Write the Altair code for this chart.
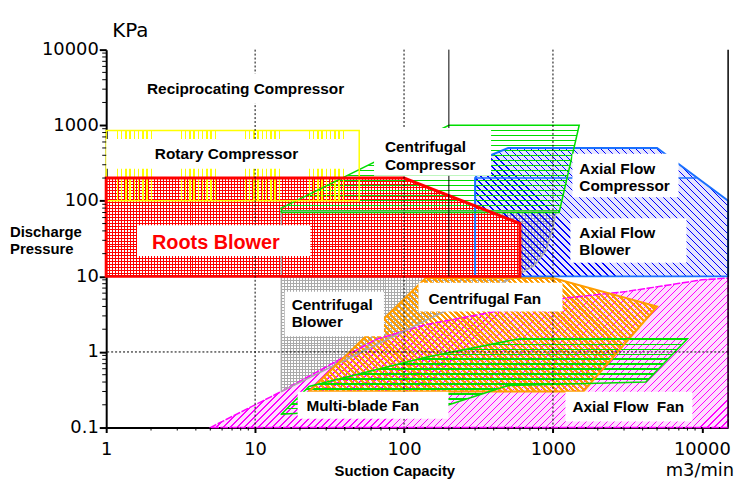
import math
import altair as alt
import pandas as pd

# ---------------- data (m3/min, kPa) ----------------
ROTARY_X = [1, 50, 50, 1]
ROTARY_Y = [850, 850, 100, 100]
ROOTS_X = [1, 100, 600, 600, 1]
ROOTS_Y = [200, 200, 50, 10, 10]
CCOMP_X = [15, 200, 1500, 1100, 15]
CCOMP_Y = [80, 1000, 1000, 70, 70]
AXIAL_X = [300, 300, 380, 500, 5000, 15000, 15000]
AXIAL_Y = [10, 200, 400, 500, 500, 100, 10]
AXIAL_SPLIT_X = [300, 9200]
AXIAL_SPLIT_Y = [200, 200]
CBLOW_X = [15, 15, 1050, 1000, 900, 750, 560]
CBLOW_Y = [0.3, 72, 72, 45, 22, 14, 10]
CFAN_X = [23, 140, 1000, 5000, 1600]
CFAN_Y = [0.3, 9.5, 9.5, 4, 0.3]
MULTI_X = [15, 23, 140, 600, 8000, 4200, 500, 200]
MULTI_Y = [0.15, 0.35, 0.85, 1.5, 1.5, 0.4, 0.36, 0.2]
AFAN_X = [5, 15, 65, 140, 1240, 3100, 10000, 15000, 15000]
AFAN_Y = [0.1, 0.3, 1.47, 2.3, 5.2, 6.3, 9, 9.5, 0.1]

X_DOMAIN = [1, 15000]
Y_DOMAIN = [0.1, 10000]
X_TICKS = [1, 10, 100, 1000, 10000]
Y_TICKS = [0.1, 1, 10, 100, 1000, 10000]
DOTTED_X = [10, 100, 1000]
DOTTED_Y = [1]
SOLID_X = [200]
SOLID_Y_FROM = [10]
SOLID_Y_TO = [10000]

LABEL_TEXT = ["Reciprocating Compressor", "Rotary Compressor", "Centrifugal", "Compressor",
              "Axial Flow", "Compressor", "Axial Flow", "Blower", "Centrifugal", "Blower",
              "Centrifugal Fan", "Multi-blade Fan", "Axial Flow\u00a0 Fan"]
LABEL_X = [1.88, 2.12, 74.4, 74.4, 1503, 1503, 1503, 1503, 17.6, 17.6, 146, 22.1, 1350]
LABEL_Y = [2570, 360, 445, 258, 229, 133, 32.2, 19.2, 3.54, 2.12, 4.37, 0.167, 0.162]
ROOTS_LABEL = ["Roots Blower"]
ROOTS_LABEL_X = [2.03]
ROOTS_LABEL_Y = [23.0]

BOX_X1 = [1.66, 1.0, 1.61, 62.9, 1350, 1309, 15.8, 125, 19.3, 1213]
BOX_X2 = [42.8, 42.8, 23.5, 384, 6970, 7880, 73.3, 1158, 198.6, 8630]
BOX_Y1 = [1950, 266, 18.6, 215, 111, 15.1, 1.61, 3.43, 0.131, 0.12]
BOX_Y2 = [4840, 659, 47.5, 918, 419, 58.7, 6.28, 8.24, 0.297, 0.297]

MINOR_X = [m * 10 ** e for e in range(0, 4) for m in range(2, 10)]
MINOR_Y = [m * 10.0 ** e for e in range(-1, 4) for m in range(2, 10)]

# ---------------- layout / styles ----------------
W, H = 627, 381
XS = alt.Scale(type="log", domain=X_DOMAIN)
YS = alt.Scale(type="log", domain=Y_DOMAIN)
LX0, LX1 = math.log10(X_DOMAIN[0]), math.log10(X_DOMAIN[1])
LY0, LY1 = math.log10(Y_DOMAIN[0]), math.log10(Y_DOMAIN[1])
CLEAR = "rgba(255,255,255,0)"
AXIS_FONT = "DejaVu Sans"
LBL_FONT = "Liberation Sans"

X_AXIS = alt.Axis(values=X_TICKS, format="~g", title="", grid=False, domainColor="black",
                  domainWidth=2, tickColor="black", tickWidth=2, tickSize=5,
                  labelFont=AXIS_FONT, labelFontSize=18, labelColor="black",
                  labelPadding=8, labelFlush=False, labelOverlap=False)
Y_AXIS = alt.Axis(values=Y_TICKS, format="~g", title="", grid=False, domainColor="black",
                  domainWidth=2, tickColor="black", tickWidth=2, tickSize=7,
                  labelFont=AXIS_FONT, labelFontSize=18, labelColor="black",
                  labelPadding=1, labelFlush=False, labelOverlap=False)


def X():
    return alt.X("x:Q", scale=XS, axis=X_AXIS)


def Y():
    return alt.Y("y:Q", scale=YS, axis=Y_AXIS)


def px(v):
    return (math.log10(v) - LX0) / (LX1 - LX0) * W


def py(v):
    return (LY1 - math.log10(v)) / (LY1 - LY0) * H


def hatch(color, xs, ys, kind, period, lw, phase=0.0, group=1, gap=0.0):
    w = px(max(xs)) - px(min(xs))
    h = py(min(ys)) - py(max(ys))
    s2 = math.sqrt(2.0)
    if kind == "h":
        span, g = h, (0, 0, 0, 1)
    elif kind == "v":
        span, g = w, (0, 0, 1, 0)
    elif kind == "down":
        c = (w + h) / (w * w + h * h)
        span, g = (w + h) / s2, (0, 1, c * w, 1 - c * h)
    else:  # "up"
        c = (w + h) / (w * w + h * h)
        span, g = (w + h) / s2, (0, 0, c * w, c * h)
    pos = []
    base = phase
    while base < span:
        for j in range(group):
            pos.append(base + j * gap)
        base += period
    stops = []
    last = 0.0
    for p in sorted(pos):
        a = round(p / span, 5)
        b = round(min((p + lw) / span, 1.0), 5)
        if a >= 1.0 or a < last:
            continue
        stops += [{"offset": a, "color": CLEAR}, {"offset": a, "color": color},
                  {"offset": b, "color": color}, {"offset": b, "color": CLEAR}]
        last = b
    return {"gradient": "linear", "x1": g[0], "y1": g[1], "x2": g[2], "y2": g[3], "stops": stops}


def poly_df(xs, ys):
    n = len(xs)
    return pd.DataFrame({"x": xs + [xs[0]], "y": ys + [ys[0]], "i": list(range(n + 1))})


def fills(xs, ys, hatches, base=None, base_op=0.0):
    df = poly_df(xs, ys)
    out = []
    if base:
        out.append(alt.Chart(df).mark_line(fill=base, fillOpacity=base_op, strokeOpacity=0)
                   .encode(x=X(), y=Y(), order="i:Q"))
    for g in hatches:
        out.append(alt.Chart(df).mark_line(fill=g, strokeOpacity=0)
                   .encode(x=X(), y=Y(), order="i:Q"))
    return out


def outline(xs, ys, stroke, sw, dash=None):
    kw = dict(stroke=stroke, strokeWidth=sw, strokeJoin="miter", strokeCap="square")
    if dash:
        kw["strokeDash"] = dash
    return alt.Chart(poly_df(xs, ys)).mark_line(**kw).encode(x=X(), y=Y(), order="i:Q")


MAG, GRAY, ORANGE, GREEN, BLUE, BLUE_LINE, YELLOW, RED = (
    "#ff00ff", "#aaaaaa", "#ff9d00", "#00dd00", "#0000ff", "#1a70ff", "#ffff00", "#ff0000")

layers = []
# region fills (bottom to top)
layers += fills(AFAN_X, AFAN_Y, [hatch(MAG, AFAN_X, AFAN_Y, "up", 5, 1)], base=MAG, base_op=0.13)
layers += fills(CBLOW_X, CBLOW_Y, [hatch(GRAY, CBLOW_X, CBLOW_Y, "h", 3, 1),
                                   hatch(GRAY, CBLOW_X, CBLOW_Y, "v", 3, 1)])
layers += fills(CFAN_X, CFAN_Y, [hatch(ORANGE, CFAN_X, CFAN_Y, "down", 4, 2.2)])
layers += fills(MULTI_X, MULTI_Y, [hatch(GREEN, MULTI_X, MULTI_Y, "h", 5, 1.4)])
layers += fills(AXIAL_X, AXIAL_Y, [hatch(BLUE, AXIAL_X, AXIAL_Y, "down", 5, 1)],
                base=BLUE, base_op=0.1)
layers += fills(ROOTS_X, ROOTS_Y, [hatch(RED, ROOTS_X, ROOTS_Y, "h", 3, 1),
                                   hatch(RED, ROOTS_X, ROOTS_Y, "v", 3, 1)],
                base="white", base_op=1.0)
layers += fills(CCOMP_X, CCOMP_Y, [hatch(GREEN, CCOMP_X, CCOMP_Y, "h", 5, 1.2)])
layers += fills(ROTARY_X, ROTARY_Y, [hatch(YELLOW, ROTARY_X, ROTARY_Y, "v", 64.5, 1.5,
                                           phase=10.5, group=9, gap=4.3)])

# region outlines
layers.append(outline(AFAN_X, AFAN_Y, MAG, 1.5, dash=[6, 3]))
layers.append(outline(CBLOW_X, CBLOW_Y, GRAY, 1.5))
layers.append(outline(CFAN_X, CFAN_Y, ORANGE, 2))
layers.append(outline(MULTI_X, MULTI_Y, GREEN, 1.5))
layers.append(outline(AXIAL_X, AXIAL_Y, BLUE_LINE, 2))
layers.append(alt.Chart(pd.DataFrame({"x": AXIAL_SPLIT_X, "y": AXIAL_SPLIT_Y}))
              .mark_line(stroke=BLUE_LINE, strokeWidth=1.5).encode(x=X(), y=Y()))
layers.append(outline(CCOMP_X, CCOMP_Y, GREEN, 1.5))
layers.append(outline(ROTARY_X, ROTARY_Y, YELLOW, 1.5))
layers.append(outline(ROOTS_X, ROOTS_Y, RED, 3))

# grid lines
layers.append(alt.Chart(pd.DataFrame({"x": DOTTED_X})).mark_rule(
    color="black", strokeDash=[2, 2], strokeWidth=1).encode(x=X()))
layers.append(alt.Chart(pd.DataFrame({"y": DOTTED_Y})).mark_rule(
    color="black", strokeDash=[2, 2], strokeWidth=1).encode(y=Y()))
layers.append(alt.Chart(pd.DataFrame({"x": SOLID_X, "y": SOLID_Y_FROM, "y2": SOLID_Y_TO}))
              .mark_rule(color="black", strokeWidth=1).encode(x=X(), y=Y(), y2="y2:Q"))
layers.append(alt.Chart(pd.DataFrame({"x": [X_DOMAIN[1]]})).mark_rule(
    color="black", strokeWidth=1.5).encode(x=X()))

# label boxes and labels
layers.append(alt.Chart(pd.DataFrame({"x": BOX_X1, "x2": BOX_X2, "y": BOX_Y1, "y2": BOX_Y2}))
              .mark_rect(fill="white").encode(x=X(), x2="x2:Q", y=Y(), y2="y2:Q"))
layers.append(alt.Chart(pd.DataFrame({"t": LABEL_TEXT, "x": LABEL_X, "y": LABEL_Y}))
              .mark_text(align="left", baseline="alphabetic", font=LBL_FONT, fontWeight="bold",
                         fontSize=15.5, color="black")
              .encode(x=X(), y=Y(), text="t:N"))
layers.append(alt.Chart(pd.DataFrame({"t": ROOTS_LABEL, "x": ROOTS_LABEL_X, "y": ROOTS_LABEL_Y}))
              .mark_text(align="left", baseline="alphabetic", font=LBL_FONT, fontWeight="bold",
                         fontSize=20, color=RED)
              .encode(x=X(), y=Y(), text="t:N"))

# minor ticks
layers.append(alt.Chart(pd.DataFrame({"x": MINOR_X})).mark_rule(color="black", strokeWidth=1)
              .encode(x=X(), y=alt.value(H), y2=alt.value(H + 3)))
layers.append(alt.Chart(pd.DataFrame({"y": MINOR_Y})).mark_rule(color="black", strokeWidth=1)
              .encode(y=Y(), x=alt.value(-4), x2=alt.value(0)))


def title_text(txt, x, y, font, size, weight, align):
    return (alt.Chart(pd.DataFrame({"t": [txt]}))
            .mark_text(align=align, baseline="alphabetic", font=font, fontSize=size,
                       fontWeight=weight, color="black")
            .encode(text="t:N", x=alt.value(x), y=alt.value(y)))


layers.append(title_text("KPa", 6, -13, AXIS_FONT, 20, "normal", "left"))
layers.append(title_text("m3/min", 633, 430, AXIS_FONT, 18, "normal", "right"))
layers.append(title_text("Suction Capacity", 291, 430, LBL_FONT, 15, "bold", "center"))
layers.append(title_text("Discharge", -97, 189, LBL_FONT, 15, "bold", "left"))
layers.append(title_text("Pressure", -97, 206, LBL_FONT, 15, "bold", "left"))

chart = (alt.layer(*layers)
         .properties(width=W, height=H,
                     padding={"left": 99, "top": 40, "right": 14, "bottom": 62},
                     autosize=alt.AutoSizeParams(type="none"))
         .configure_view(strokeWidth=0))

chart.save("out.html", embed_options={"renderer": "svg", "actions": False})
